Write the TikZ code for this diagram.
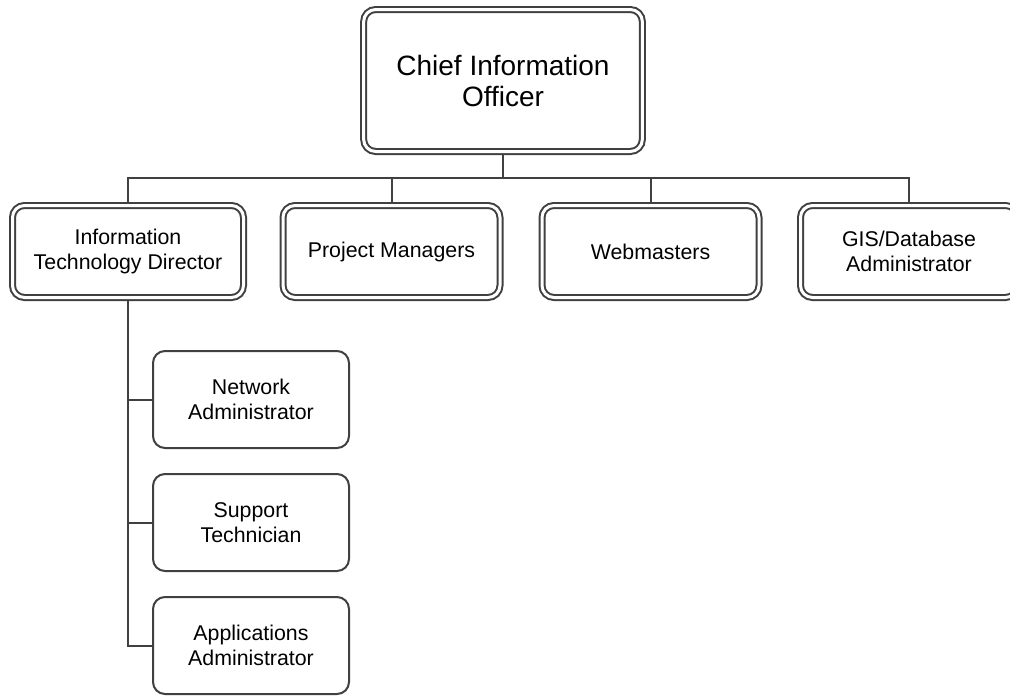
\documentclass[tikz,border=0pt]{standalone}
\usepackage{fontspec}
\setmainfont{Liberation Sans}
\usepackage{tikz}
\usetikzlibrary{backgrounds,positioning}
\definecolor{linegray}{HTML}{404040}

\begin{document}
\begin{tikzpicture}[
  x=0.75pt,
  y=-0.75pt,
  font=\fontsize{16}{18.5}\selectfont,
  dblbox/.style={draw=linegray, double=white, fill=white, line width=1.5pt,
    double distance=2.25pt, align=center, inner sep=3pt},
  chiefbox/.style={dblbox, rounded corners=9pt, minimum width=209pt,
    minimum height=106.5pt, font=\fontsize{21}{23.25}\selectfont},
  headbox/.style={dblbox, rounded corners=9pt, minimum width=162.75pt,
    minimum height=69pt},
  staffbox/.style={draw=linegray, fill=white, line width=1.5pt, rounded corners=9pt,
    align=center, minimum width=147pt, minimum height=72.75pt, inner sep=3pt},
  link/.style={draw=linegray, line width=1.5pt}
]
\useasboundingbox (0,0) rectangle (1010,696);

\node[chiefbox] (cio) at (503,80.5) {Chief Information\\Officer};

\node[headbox, minimum width=173.25pt] (itd) at (128,251.5)
  {Information\\Technology Director};
\node[headbox] (pm) at (391.5,251.5) {Project Managers};
\node[headbox] (web) at (650.5,251.5) {Webmasters};
\node[headbox] (gis) at (909,251.5) {GIS/Database\\Administrator};

\node[staffbox] (net) at (251,399.5) {Network\\Administrator};
\node[staffbox] (sup) at (251,522.5) {Support\\Technician};
\node[staffbox] (app) at (251,645.5) {Applications\\Administrator};

\coordinate (bus) at (503,178);

\begin{scope}[on background layer]
  \draw[link] (cio.south) -- (bus);
  \foreach \n in {itd,pm,web,gis}
    \draw[link] (bus) -| (\n.north);
  \foreach \n in {net,sup,app}
    \draw[link] (itd.south) |- (\n.west);
\end{scope}

\end{tikzpicture}
\end{document}
